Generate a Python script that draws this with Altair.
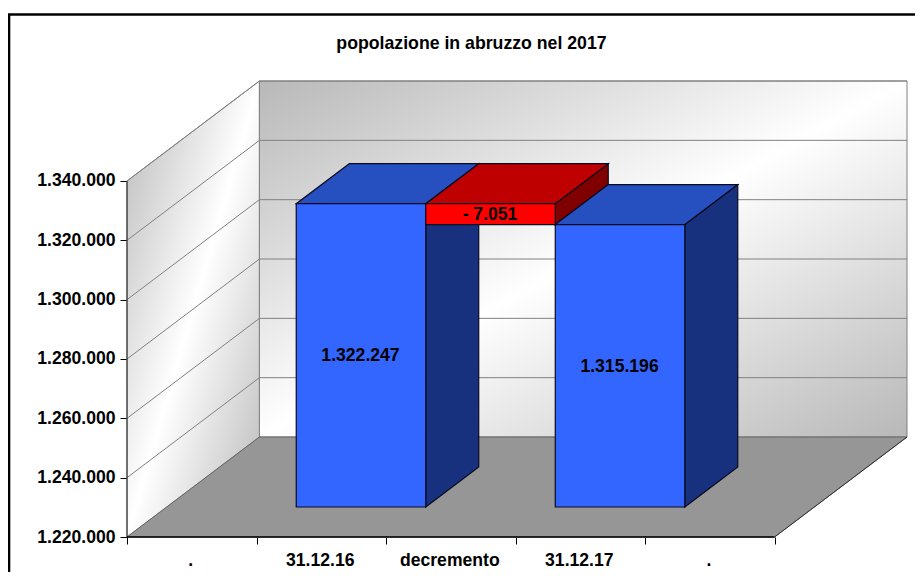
import altair as alt
import pandas as pd

# ---- chart values -------------------------------------------------------
categories = [".", "31.12.16", "decremento", "31.12.17", "."]
base_value = 1220000
tick_values = [1220000, 1240000, 1260000, 1280000, 1300000, 1320000, 1340000]
bar_lows = [1220000, 1315196, 1220000]
bar_highs = [1322247, 1322247, 1315196]
bar_slots = [1, 2, 3]
bar_labels = ["1.322.247", "- 7.051", "1.315.196"]
bar_front = ["#3366ff", "#ff0000", "#3366ff"]
bar_top = ["#264fc0", "#bf0000", "#264fc0"]
bar_side = ["#18317f", "#800000", "#18317f"]
title_text = "popolazione in abruzzo nel 2017"

# ---- oblique projection: depth 1 moves a point along both scales --------
depth_x = 1.0224
depth_y = 33700
z_front, z_back = 0.3, 0.7
n = len(categories)
top_value = 1340000

FONT = "Liberation Sans"
x_scale = alt.Scale(domain=[0, n + depth_x], nice=False, zero=False)
y_scale = alt.Scale(domain=[base_value, top_value + depth_y], nice=False, zero=False)
x_axis = alt.Axis(values=list(range(n + 1)), labels=False, domain=False, grid=False, title=None,
                  tickColor="#000000", tickSize=7, tickWidth=1)
y_axis = alt.Axis(values=tick_values, domain=False, grid=False, title=None,
                  tickColor="#000000", tickSize=7, tickWidth=1, labelPadding=5,
                  labelFont=FONT, labelFontSize=17.6, labelFontWeight="bold",
                  labelColor="#000000",
                  labelExpr="replace(format(datum.value, ','), /,/g, '.')")
X = lambda f="x": alt.X(f"{f}:Q", scale=x_scale, axis=x_axis)
Y = lambda f="y": alt.Y(f"{f}:Q", scale=y_scale, axis=y_axis)


def vertical_face(x0, x1, low0, high0, low1, high1, **mark):
    df = pd.DataFrame({"x": [x0, x1], "y": [low0, low1], "y2": [high0, high1]})
    return alt.Chart(df).mark_area(orient="vertical", **mark).encode(
        x=X(), y=Y(), y2=alt.Y2("y2:Q"))


def flat_face(y0, y1, x00, x01, x10, x11, **mark):
    df = pd.DataFrame({"y": [y0, y1], "x": [x00, x10], "x2": [x01, x11]})
    return alt.Chart(df).mark_area(orient="horizontal", **mark).encode(
        y=Y(), x=X(), x2=alt.X2("x2:Q"))


def wall_gradient():
    return alt.LinearGradient(
        gradient="linear", x1=0, y1=0, x2=1, y2=1,
        stops=[alt.GradientStop(color="#b8b8b8", offset=0),
               alt.GradientStop(color="#ffffff", offset=0.5),
               alt.GradientStop(color="#b8b8b8", offset=1)])


def seg(x0, y0, x1, y1, color, width=1):
    df = pd.DataFrame({"x": [x0, x1], "y": [y0, y1]})
    return alt.Chart(df).mark_line(color=color, strokeWidth=width).encode(x=X(), y=Y())


layers = []

# walls and floor
layers.append(vertical_face(0, depth_x, base_value, top_value, base_value + depth_y, top_value + depth_y,
                            fill=wall_gradient(), stroke="#808080", strokeWidth=1))
layers.append(vertical_face(depth_x, n + depth_x, base_value + depth_y, top_value + depth_y,
                            base_value + depth_y, top_value + depth_y,
                            fill=wall_gradient(), stroke="#808080", strokeWidth=1))
layers.append(flat_face(base_value, base_value + depth_y, 0, n, depth_x, n + depth_x,
                        fill="#969696", stroke="#666666", strokeWidth=1))

# gridlines
for v in tick_values[1:]:
    layers.append(seg(0, v, depth_x, v + depth_y, "#808080"))
    layers.append(seg(depth_x, v + depth_y, n + depth_x, v + depth_y, "#808080"))

# axis lines and floor edge
layers.append(seg(0, base_value, 0, top_value, "#222222"))
layers.append(seg(0, base_value, n, base_value, "#000000", 1.5))
layers.append(seg(n, base_value, n + depth_x, base_value + depth_y, "#333333"))

# bars
edge = dict(stroke="#0a0a20", strokeWidth=1.2)
for slot, low, high, fc, tc, sc in zip(bar_slots, bar_lows, bar_highs, bar_front, bar_top, bar_side):
    xf0 = slot + z_front * depth_x
    xf1 = xf0 + 1
    xb0 = slot + z_back * depth_x
    xb1 = xb0 + 1
    lf, hf = low + z_front * depth_y, high + z_front * depth_y
    lb, hb = low + z_back * depth_y, high + z_back * depth_y
    layers.append(vertical_face(xf1, xb1, lf, hf, lb, hb, fill=sc, **edge))
    layers.append(flat_face(hf, hb, xf0, xf1, xb0, xb1, fill=tc, **edge))
    layers.append(vertical_face(xf0, xf1, lf, hf, lf, hf, fill=fc, **edge))

# data labels
label_df = pd.DataFrame({
    "x": [s + 0.5 + z_front * depth_x for s in bar_slots],
    "y": [(a + b) / 2 + z_front * depth_y for a, b in zip(bar_lows, bar_highs)],
    "t": bar_labels,
})
layers.append(alt.Chart(label_df).mark_text(font=FONT, fontSize=17.6, fontWeight="bold", color="#000000",
                                            baseline="middle", dx=-0.5, dy=1).encode(x=X(), y=Y(), text="t:N"))

# category labels
cat_df = pd.DataFrame({
    "x": [i + 0.5 for i in range(n)],
    "y": [base_value] * n,
    "t": categories,
    "i": list(range(n)),
})
layers.append(alt.Chart(cat_df).mark_text(font=FONT, fontSize=17.6, fontWeight="bold", color="#000000",
                                          baseline="middle", dx=-1, dy=24).encode(
    x=X(), y=Y(), text="t:N", detail="i:N"))

# chart title and outer frame (left and top edge of the chart object)
frame = pd.DataFrame({"t": [title_text]})
layers.append(alt.Chart(frame).mark_text(font=FONT, fontSize=17.7, fontWeight="bold", color="#000000",
                                         baseline="middle").encode(
    x=alt.value(344.5), y=alt.value(-37.5), text="t:N"))
layers.append(alt.Chart(frame).mark_rule(color="#000000", strokeWidth=2.6).encode(
    x=alt.value(-118), y=alt.value(-66.5), y2=alt.value(491)))
layers.append(alt.Chart(frame).mark_rule(color="#000000", strokeWidth=2.6).encode(
    x=alt.value(-119), x2=alt.value(788), y=alt.value(-66.5)))

chart = alt.layer(*layers).properties(
    width=780,
    height=456,
    autosize=alt.AutoSizeParams(type="none"),
    padding={"left": 119, "top": 73, "right": 8, "bottom": 35},
).configure_view(stroke=None)

chart.save("out.html", embed_options={"renderer": "svg", "actions": False})
